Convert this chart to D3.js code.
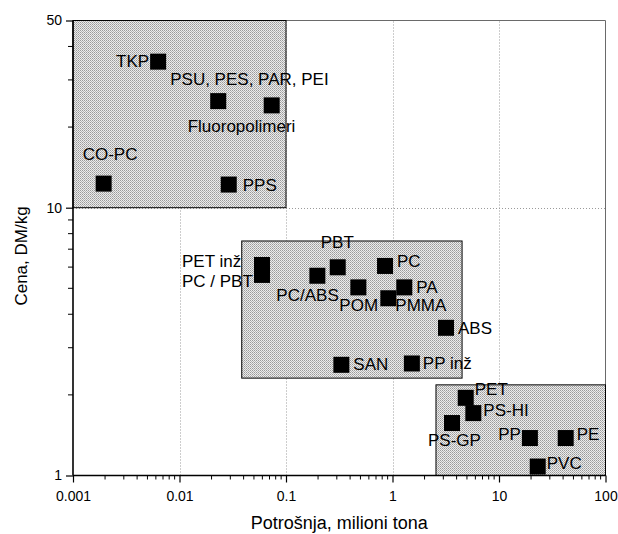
<!DOCTYPE html>
<html>
<head>
<meta charset="utf-8">
<script src="https://cdn.jsdelivr.net/npm/d3@7"></script>
<style>
  body { margin: 0; background: #fff; }
  svg { display: block; font-family: Arial, "Liberation Sans", Helvetica, sans-serif; }
</style>
</head>
<body>
<div id="chart"></div>
<script>
// polymers: consumption (million t) vs price (DM/kg)
const names = ["TKP", "PSU, PES, PAR, PEI", "Fluoropolimeri", "CO-PC", "PPS",
  "PET inž", "PC / PBT", "PC/ABS", "PBT", "POM", "PC", "PA", "PMMA", "ABS", "SAN", "PP inž",
  "PET", "PS-HI", "PS-GP", "PP", "PE", "PVC"];
const consumption = [0.0063, 0.0231, 0.0734, 0.00194, 0.029,
  0.0595, 0.0595, 0.197, 0.306, 0.478, 0.851, 1.29, 0.914, 3.18, 0.331, 1.52,
  4.87, 5.74, 3.62, 19.5, 42.3, 23.1];
const price = [35.1, 25.0, 24.1, 12.3, 12.2,
  6.11, 5.61, 5.57, 5.99, 5.04, 6.06, 5.04, 4.59, 3.56, 2.59, 2.62,
  1.95, 1.71, 1.57, 1.38, 1.38, 1.08];

// shaded groups: [xMin, xMax, yMin, yMax]
const groups = [
  [0.001, 0.1, 10, 50],
  [0.0384, 4.5, 2.31, 7.51],
  [2.56, 100, 1, 2.18]
];

const xMajor = [0.001, 0.01, 0.1, 1, 10, 100];
const xLabels = ["0.001", "0.01", "0.1", "1", "10", "100"];
const yMajor = [1, 10, 50];
const yMinor = [2, 3, 4, 5, 6, 7, 8, 9, 20, 30, 40];

// label placement relative to marker centre (px)
const labelPos = {
  "TKP": [-9, 5, "end"],
  "PSU, PES, PAR, PEI": [-48, -16, "start"],
  "Fluoropolimeri": [-84, 27, "start"],
  "CO-PC": [-21, -24, "start"],
  "PPS": [14, 6, "start"],
  "PET inž": [-80, 2, "start"],
  "PC / PBT": [-80, 12, "start"],
  "PC/ABS": [-41, 25, "start"],
  "PBT": [-17, -19, "start"],
  "PC": [12, 1, "start"],
  "PA": [12, 6, "start"],
  "POM": [-19, 24, "start"],
  "PMMA": [7, 13, "start"],
  "ABS": [12, 6, "start"],
  "SAN": [12, 5, "start"],
  "PP inž": [11, 6, "start"],
  "PET": [9, -3, "start"],
  "PS-HI": [10, 3, "start"],
  "PS-GP": [-24, 23, "start"],
  "PP": [-9, 2, "end"],
  "PE": [11, 2, "start"],
  "PVC": [9, 2, "start"]
};

const width = 618, height = 534;
const margin = { top: 20.5, right: 12.5, bottom: 58.5, left: 73 };

const svg = d3.select("#chart").append("svg")
  .attr("width", width)
  .attr("height", height);

// stipple fill
const defs = svg.append("defs");
const pat = defs.append("pattern")
  .attr("id", "stipple")
  .attr("patternUnits", "userSpaceOnUse")
  .attr("width", 2).attr("height", 2);
pat.append("rect").attr("width", 2).attr("height", 2).attr("fill", "#ececec");
pat.append("rect").attr("width", 1).attr("height", 1).attr("fill", "#9a9a9a");
pat.append("rect").attr("x", 1).attr("y", 1).attr("width", 1).attr("height", 1).attr("fill", "#b4b4b4");

const x = d3.scaleLog().domain([0.001, 100]).range([margin.left, width - margin.right]);
const y = d3.scaleLog().domain([1, 50]).range([height - margin.bottom, margin.top]);

const points = names.map((n, i) => ({ name: n, x: consumption[i], y: price[i] }));

// grid
const grid = svg.append("g")
  .attr("stroke", "#9a9a9a")
  .attr("stroke-width", 1)
  .attr("stroke-dasharray", "1,2");
grid.selectAll("line.v")
  .data(xMajor.slice(1, -1))
  .enter().append("line")
  .attr("x1", d => Math.round(x(d)) + 0.5).attr("x2", d => Math.round(x(d)) + 0.5)
  .attr("y1", y(1)).attr("y2", y(50));
grid.append("line")
  .attr("x1", x(0.001)).attr("x2", x(100))
  .attr("y1", Math.round(y(10)) + 0.5).attr("y2", Math.round(y(10)) + 0.5);

// frame top / right
svg.append("path")
  .attr("d", `M${x(0.001)},${y(50)}H${x(100)}V${y(1)}`)
  .attr("fill", "none")
  .attr("stroke", "#6a6a6a")
  .attr("stroke-width", 1);

// shaded groups
svg.selectAll("rect.group")
  .data(groups)
  .enter().append("rect")
  .attr("class", "group")
  .attr("x", d => x(d[0]))
  .attr("y", d => y(d[3]))
  .attr("width", d => x(d[1]) - x(d[0]))
  .attr("height", d => y(d[2]) - y(d[3]))
  .attr("fill", "url(#stipple)")
  .attr("stroke", "#000")
  .attr("stroke-width", 1);

// markers
const ms = 16;
svg.selectAll("rect.pt")
  .data(points)
  .enter().append("rect")
  .attr("class", "pt")
  .attr("x", d => x(d.x) - ms / 2)
  .attr("y", d => y(d.y) - ms / 2)
  .attr("width", ms)
  .attr("height", ms)
  .attr("fill", "#000");

// labels
svg.selectAll("text.lbl")
  .data(points)
  .enter().append("text")
  .attr("class", "lbl")
  .attr("x", d => x(d.x) + labelPos[d.name][0])
  .attr("y", d => y(d.y) + labelPos[d.name][1])
  .attr("text-anchor", d => labelPos[d.name][2])
  .style("font-size", "17px")
  .style("fill", "#000")
  .text(d => d.name);

// x axis
const xAxis = d3.axisBottom(x)
  .tickValues(xMajor)
  .tickFormat((d, i) => xLabels[i])
  .tickSize(7)
  .tickPadding(9);
const gx = svg.append("g")
  .attr("transform", `translate(0,${y(1)})`)
  .call(xAxis);
const xMinor = [];
xMajor.slice(0, -1).forEach(m => { for (let k = 2; k <= 9; k++) xMinor.push(m * k); });
gx.selectAll("line.minor")
  .data(xMinor)
  .enter().append("line")
  .attr("class", "minor")
  .attr("x1", d => x(d)).attr("x2", d => x(d))
  .attr("y1", 0).attr("y2", 4)
  .attr("stroke", "#000");

// y axis
const yAxis = d3.axisLeft(y)
  .tickValues(yMajor)
  .tickFormat(d3.format("d"))
  .tickSize(7)
  .tickPadding(4);
const gy = svg.append("g")
  .attr("transform", `translate(${x(0.001)},0)`)
  .call(yAxis);
gy.selectAll("line.minor")
  .data(yMinor)
  .enter().append("line")
  .attr("class", "minor")
  .attr("x1", -5).attr("x2", 0)
  .attr("y1", d => y(d)).attr("y2", d => y(d))
  .attr("stroke", "#000");

[gx, gy].forEach(g => {
  g.select(".domain").attr("stroke", "#000").attr("stroke-width", 1.6);
  g.selectAll(".tick line").attr("stroke", "#000").attr("stroke-width", 1.2);
  g.selectAll(".tick text")
    .style("font-family", "Arial, 'Liberation Sans', sans-serif")
    .style("font-size", "14px")
    .attr("fill", "#000");
});
gx.select(".domain").attr("d", `M${x(0.001)},0H${x(100)}`);
gy.select(".domain").attr("d", `M0,${y(1)}V${y(50)}`);

// axis titles
svg.append("text")
  .attr("x", (x(0.001) + x(100)) / 2)
  .attr("y", 529)
  .attr("text-anchor", "middle")
  .style("font-size", "18px")
  .text("Potrošnja, milioni tona");

svg.append("text")
  .attr("transform", `translate(27,${(y(1) + y(50)) / 2 + 8}) rotate(-90)`)
  .attr("text-anchor", "middle")
  .style("font-size", "17px")
  .text("Cena, DM/kg");
</script>
</body>
</html>
